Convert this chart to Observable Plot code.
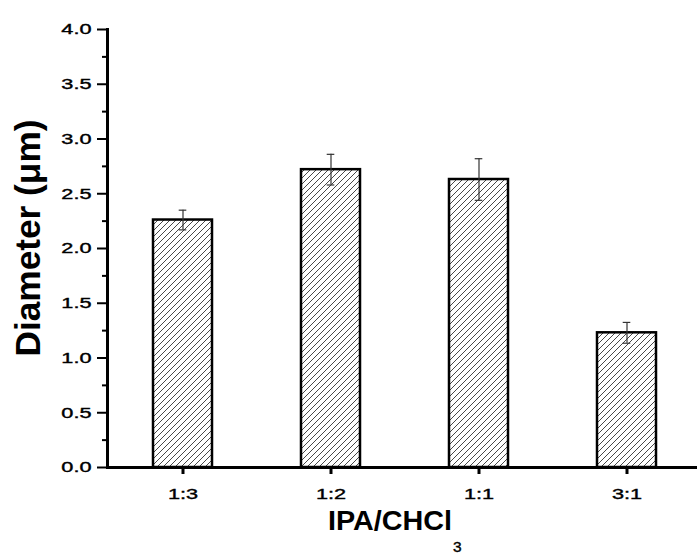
<!DOCTYPE html>
<html>
<head>
<meta charset="utf-8">
<script src="https://cdn.jsdelivr.net/npm/d3@7"></script>
<script src="https://cdn.jsdelivr.net/npm/@observablehq/plot@0.6"></script>
<style>
  html, body { margin: 0; padding: 0; background: #fff; }
  #chart svg { display: block; font-family: "Liberation Sans", Arial, sans-serif; }
  #chart svg g[aria-label$="tick label"] { font-size: 15.5px !important; }
</style>
</head>
<body>
<div id="chart"></div>
<script>
const categories = ["1:3", "1:2", "1:1", "3:1"];
const diameters = [2.26, 2.72, 2.63, 1.23];
const errors = [0.09, 0.14, 0.19, 0.095];
const yMajorTicks = [0, 0.5, 1.0, 1.5, 2.0, 2.5, 3.0, 3.5, 4.0];
const yMinorTicks = [0.25, 0.75, 1.25, 1.75, 2.25, 2.75, 3.25, 3.75];
const yTitle = "Diameter (\u03BCm)";
const xTitleMain = "IPA/CHCl";
const xTitleSub = "3";

const data = categories.map((c, i) => ({
  cat: c, d: diameters[i], lo: diameters[i] - errors[i], hi: diameters[i] + errors[i]
}));

const svg = Plot.plot({
  width: 697,
  height: 554,
  marginLeft: 107,
  marginRight: 0,
  marginTop: 29,
  marginBottom: 87,
  style: {fontFamily: "Liberation Sans, Arial, sans-serif", fontSize: "15px", color: "#000", background: "#fff"},
  x: {domain: categories, paddingInner: 0.6, paddingOuter: 0.29, align: 0.53, label: null},
  y: {domain: [0, 4], label: null},
  marks: [
    Plot.barY(data, {x: "cat", y: "d", fill: "url(#hatch)", stroke: "#000", strokeWidth: 2.5}),
    Plot.ruleX(data, {x: "cat", y1: "lo", y2: "hi", stroke: "#333", strokeWidth: 1.2}),
    Plot.tickY(data, {x: "cat", y: "lo", stroke: "#333", strokeWidth: 1.2, insetLeft: 25.7, insetRight: 25.7}),
    Plot.tickY(data, {x: "cat", y: "hi", stroke: "#333", strokeWidth: 1.2, insetLeft: 25.7, insetRight: 25.7}),
    Plot.axisY({ticks: yMajorTicks, tickFormat: d3.format(".1f"), tickSize: 10, tickPadding: 6, strokeWidth: 2, fontSize: 15, fill: "#000", label: null}),
    Plot.axisY({ticks: yMinorTicks, tickSize: 5, strokeWidth: 2, text: null, label: null}),
    Plot.axisX({tickSize: 7, tickPadding: 13, strokeWidth: 3, fontSize: 15, fill: "#000", label: null}),
    Plot.frame({anchor: "left", stroke: "#000", strokeWidth: 3}),
    Plot.ruleY([0], {stroke: "#000", strokeWidth: 3})
  ]
});

const s = d3.select(svg);
const defs = s.insert("defs", ":first-child");
const pat = defs.append("pattern")
  .attr("id", "hatch")
  .attr("patternUnits", "userSpaceOnUse")
  .attr("width", 6).attr("height", 6);
pat.append("rect").attr("width", 6).attr("height", 6).attr("fill", "#fff");
pat.append("path")
  .attr("d", "M0,6 L6,0 M-1.5,1.5 L1.5,-1.5 M4.5,7.5 L7.5,4.5")
  .attr("stroke", "#333").attr("stroke-width", 0.9).attr("fill", "none");

s.append("text")
  .attr("transform", "translate(39.5,238) rotate(-90)")
  .attr("text-anchor", "middle")
  .style("font-size", "35px")
  .style("font-weight", "bold")
  .attr("fill", "#000")
  .attr("textLength", 237)
  .attr("lengthAdjust", "spacingAndGlyphs")
  .text(yTitle);

const xt = s.append("text")
  .attr("x", 328).attr("y", 530)
  .attr("text-anchor", "start")
  .style("font-weight", "bold")
  .attr("fill", "#000");
xt.append("tspan").style("font-size", "27px").attr("textLength", 124).attr("lengthAdjust", "spacingAndGlyphs").text(xTitleMain);
xt.append("tspan").attr("x", 453).attr("y", 552).style("font-size", "15.5px").style("font-weight", "normal")
  .attr("stroke", "#000").attr("stroke-width", 0.4).text(xTitleSub);

document.getElementById("chart").appendChild(svg);

// the reference's tick labels are drawn wider and heavier than the font's natural shape
s.selectAll('g[aria-label$="tick label"] text').each(function() {
  const w = this.getComputedTextLength();
  d3.select(this)
    .attr("textLength", w * 1.4)
    .attr("lengthAdjust", "spacingAndGlyphs")
    .attr("stroke", "#000")
    .attr("stroke-width", 0.4);
});
</script>
</body>
</html>
